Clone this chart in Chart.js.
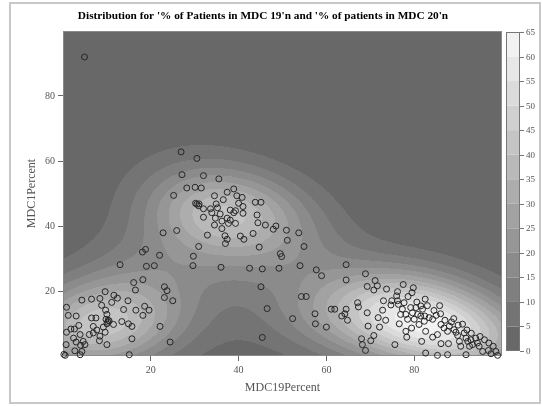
<!DOCTYPE html>
<html><head><meta charset="utf-8">
<script src="https://cdn.jsdelivr.net/npm/chart.js@4.4.1/dist/chart.umd.min.js"></script>
<style>html,body{margin:0;padding:0;background:#fff}canvas{display:block}</style>
</head><body>
<canvas id="c" width="542" height="406"></canvas>
<script>
// ---- data ----
const mdc19Percent = [
 // left cluster
 13.0,19.0,20.8,16.1,18.2,16.5,9.6,11.6,12.4,4.3,6.5,8.4,8.8,11.1,14.8,23.1,23.7,23.1,25.0,18.6,19.6,13.8,16.6,9.7,10.0,18.2,3.0,6.5,7.5,9.8,10.2,10.0,11.5,13.4,14.9,15.7,22.1,1.8,2.6,3.6,6.9,9.2,7.7,0.8,3.9,6.0,6.9,8.4,9.6,15.7,24.4,2.4,3.0,4.6,5.0,4.0,8.3,10.0,0.7,2.7,4.3,3.9,15.1,0.5,0.2,1.2,0.8,10.3,10.5,
 // upper left / between
 4.9,22.8,25.9,18.8,18.1,22.0,25.2,
 // middle cluster
 26.9,30.5,27.1,32.0,35.5,28.2,30.1,31.5,37.4,38.9,34.5,39.6,40.8,36.5,34.9,30.5,30.9,32.0,33.6,35.2,38.1,39.3,40.0,41.0,43.8,45.1,33.9,35.8,38.9,41.0,32.0,34.7,37.4,44.2,36.2,38.1,34.5,37.7,39.3,44.4,46.1,47.9,48.5,50.9,53.7,36.2,32.9,36.9,37.4,37.0,40.4,41.2,43.3,51.1,54.9,44.7,30.9,49.5,49.8,29.7,29.6,36.0,42.5,45.4,49.2,54.0,30.2,31.0,
 // middle bottom
 45.1,46.5,52.3,45.4,
 // right middle
 57.7,58.9,64.5,64.5,68.9,71.1,69.3,71.6,70.8,73.7,76.2,76.0,73.0,74.9,76.2,76.4,74.7,54.3,55.4,67.1,67.3,61.1,61.9,64.5,64.2,63.5,69.3,72.8,57.4,64.8,71.8,73.5,57.5,60.0,69.5,72.1,76.6,76.9,70.8,70.1,68.0,68.2,68.9,75.6,77.5,79.8,
 // right cluster
 78.6,80.6,81.5,81.9,80.4,79.2,77.7,77.3,78.1,79.6,80.8,81.5,82.4,83.4,84.2,78.5,80.0,82.3,81.1,79.4,78.1,78.3,81.7,82.6,84.2,85.3,86.1,86.8,87.6,88.0,89.1,89.5,89.9,91.4,91.8,92.2,92.9,93.3,94.4,94.8,90.3,90.6,86.1,87.8,95.6,96.9,97.5,98.6,99.0,82.6,85.3,87.6,91.8,92.6,
 84.5,85.0,87.0,88.5,90.0,83.0,86.0,92.0,93.0,95.0,96.0,94.0,97.0,98.0,89.0,91.0,85.8,79.5,82.5
];
const mdc1Percent = [
 // left cluster
 28.1,27.6,27.8,22.6,23.5,20.3,19.8,18.7,17.8,17.2,17.5,17.7,15.6,16.5,17.0,21.3,20.1,18.0,17.0,15.3,14.1,14.3,14.1,14.1,12.8,12.5,12.3,11.7,11.7,11.3,10.4,9.9,9.7,10.6,9.9,9.1,9.1,8.3,8.3,9.4,9.1,8.9,8.0,7.3,6.6,6.6,7.1,6.1,7.3,5.3,4.3,5.5,4.3,4.5,3.5,3.3,4.7,3.5,3.5,1.6,1.4,0.4,0.4,0.2,0.5,12.5,15.0,11.0,10.8,
 // upper left / between
 92.0,37.9,38.6,32.8,32.0,31.0,49.4,
 // middle cluster
 62.8,60.8,55.8,55.5,54.5,51.7,51.9,51.7,50.4,51.4,49.3,49.3,48.8,48.1,46.8,46.7,46.2,45.3,45.3,45.6,44.9,44.7,47.0,46.0,47.3,47.3,44.1,43.7,44.1,43.9,42.7,42.4,42.4,43.4,41.5,41.8,40.3,40.8,40.8,41.0,40.3,39.0,40.0,38.7,37.9,39.2,37.2,37.0,35.9,34.6,36.9,35.9,37.7,35.6,33.7,33.5,33.7,31.5,30.6,30.7,27.8,27.3,27.0,26.8,27.0,27.8,47.0,46.8,
 // middle bottom
 21.3,14.6,11.5,5.7,
 // right middle
 26.5,24.7,28.1,23.4,25.3,23.2,21.4,21.6,20.3,20.6,19.8,18.5,17.0,17.0,17.0,15.9,15.7,18.3,18.3,16.4,15.1,14.4,14.4,14.4,13.0,12.3,13.3,14.1,13.0,11.0,11.8,11.0,9.9,8.9,9.2,8.9,9.9,12.8,6.3,4.7,5.3,3.5,1.7,3.5,22.0,21.0,
 // right cluster
 18.3,16.6,15.4,14.4,14.9,14.9,16.4,14.4,12.8,13.3,12.8,12.3,12.3,11.8,11.3,11.3,11.3,10.7,9.7,8.6,7.6,5.8,4.5,7.6,5.8,6.6,9.7,8.6,7.6,9.2,8.1,7.3,6.3,7.1,5.5,4.5,5.0,3.5,4.0,3.0,4.5,3.0,3.8,3.8,1.4,1.7,0.7,1.4,0.2,0.9,0.2,0.4,0.4,3.0,
 14.0,12.5,11.0,10.5,9.5,15.5,13.0,8.0,7.0,6.0,5.0,5.5,4.0,3.0,11.5,9.8,15.5,19.5,17.5
];
const xTickValues = [20, 40, 60, 80];
const yTickValues = [20, 40, 60, 80];
const colorbarTicks = [0,5,10,15,20,25,30,35,40,45,50,55,60,65];

const TITLE = "Distribution for '% of Patients in MDC 19'n and '% of patients in MDC 20'n";
const SERIF = "'Liberation Serif','Times New Roman',serif";
const BW_X = 11, BW_Y = 7.5;       // kernel bandwidths (data units)
const DENSITY_PEAK = 64;           // colorbar value reached at the density maximum
// grayscale ramp for the 13 contour bands (dark -> light)
const bandGray = colorbarTicks.slice(0, -1).map((_, k) => {
  const g = Math.round(104 + k * (242 - 104) / (colorbarTicks.length - 2));
  return [g, g, g];
});

const points = mdc19Percent.map((v, i) => ({ x: v, y: mdc1Percent[i] }));

const densityPlugin = {
  id: 'density',
  beforeDatasetsDraw(chart) {
    const { ctx, chartArea: a, scales: { x, y } } = chart;
    const L = Math.round(a.left), T = Math.round(a.top);
    const w = Math.round(a.right) - L, h = Math.round(a.bottom) - T;
    if (!chart.$densCanvas) {
      const n = points.length;
      const xv = new Float64Array(w), yv = new Float64Array(h);
      for (let i = 0; i < w; i++) xv[i] = x.getValueForPixel(L + i + 0.5);
      for (let j = 0; j < h; j++) yv[j] = y.getValueForPixel(T + j + 0.5);
      const dens = new Float64Array(w * h);
      const gx = new Float64Array(w);
      for (let k = 0; k < n; k++) {
        const px = points[k].x, py = points[k].y;
        for (let i = 0; i < w; i++) { const d = (xv[i] - px) / BW_X; gx[i] = Math.exp(-0.5 * d * d); }
        for (let j = 0; j < h; j++) {
          const d = (yv[j] - py) / BW_Y; const g = Math.exp(-0.5 * d * d);
          if (g < 1e-5) continue;
          const row = j * w;
          for (let i = 0; i < w; i++) dens[row + i] += gx[i] * g;
        }
      }
      let max = 0; for (let p = 0; p < dens.length; p++) if (dens[p] > max) max = dens[p];
      const off = document.createElement('canvas'); off.width = w; off.height = h;
      const octx = off.getContext('2d');
      const img = octx.createImageData(w, h);
      const nb = bandGray.length;
      for (let p = 0; p < dens.length; p++) {
        const v = dens[p] / max * DENSITY_PEAK;
        let b = Math.floor(v / 5); if (b > nb - 1) b = nb - 1; if (b < 0) b = 0;
        const c = bandGray[b];
        img.data[p * 4] = c[0]; img.data[p * 4 + 1] = c[1]; img.data[p * 4 + 2] = c[2]; img.data[p * 4 + 3] = 255;
      }
      octx.putImageData(img, 0, 0);
      chart.$densCanvas = off;
    }
    ctx.drawImage(chart.$densCanvas, L, T);
    ctx.save();
    ctx.strokeStyle = '#8a8a8a'; ctx.lineWidth = 1;
    ctx.strokeRect(L + 0.5, T + 0.5, w - 1, h - 1);
    ctx.restore();
  }
};

const decorPlugin = {
  id: 'decor',
  beforeDraw(chart) {
    const ctx = chart.ctx;
    ctx.save();
    ctx.fillStyle = '#fff'; ctx.fillRect(0, 0, chart.width, chart.height);
    ctx.strokeStyle = '#c8c8c8'; ctx.lineWidth = 2;
    ctx.strokeRect(10, 3, 530, 400);
    ctx.fillStyle = '#000';
    ctx.font = 'bold 11.3px ' + SERIF;
    ctx.textAlign = 'center'; ctx.textBaseline = 'middle';
    ctx.fillText(TITLE, 263, 16);
    ctx.restore();
  },
  afterDraw(chart) {
    // colour bar legend
    const ctx = chart.ctx;
    const bx = 506, bw = 14, top = 32, bottom = 351;
    const vmax = colorbarTicks[colorbarTicks.length - 1];
    const yOf = v => bottom - (v / vmax) * (bottom - top);
    ctx.save();
    for (let k = 0; k < bandGray.length; k++) {
      const y0 = yOf(colorbarTicks[k]), y1 = yOf(colorbarTicks[k + 1]);
      const c = bandGray[k];
      ctx.fillStyle = `rgb(${c[0]},${c[1]},${c[2]})`;
      ctx.fillRect(bx, y1, bw, y0 - y1);
    }
    ctx.strokeStyle = '#777'; ctx.lineWidth = 1;
    ctx.strokeRect(bx + 0.5, top + 0.5, bw - 1, bottom - top - 1);
    ctx.fillStyle = '#555'; ctx.font = '9px ' + SERIF;
    ctx.textAlign = 'left'; ctx.textBaseline = 'middle';
    colorbarTicks.forEach(v => {
      const yy = Math.round(yOf(v)) + 0.5;
      ctx.beginPath(); ctx.moveTo(bx + bw, yy); ctx.lineTo(bx + bw + 4, yy); ctx.stroke();
      ctx.fillText(String(v), bx + bw + 6, yy);
    });
    ctx.restore();
  }
};

new Chart(document.getElementById('c'), {
  type: 'scatter',
  data: {
    datasets: [{
      data: points,
      pointStyle: 'circle',
      pointRadius: 3,
      pointBorderWidth: 1,
      borderColor: '#262626',
      backgroundColor: 'rgba(0,0,0,0)',
      clip: false
    }]
  },
  options: {
    responsive: false,
    animation: false,
    events: [],
    layout: { padding: { top: 31, right: 40, bottom: 7, left: 21 } },
    plugins: { legend: { display: false }, title: { display: false }, tooltip: { enabled: false } },
    scales: {
      x: {
        type: 'linear', min: 0, max: 100,
        afterBuildTicks: s => { s.ticks = xTickValues.map(v => ({ value: v })); },
        afterFit: s => { s.height = 43; },
        ticks: { font: { family: SERIF, size: 10 }, color: '#555', padding: 3, maxRotation: 0 },
        grid: { drawOnChartArea: false, drawTicks: true, tickLength: 5, color: '#666' },
        border: { display: false },
        title: { display: true, text: 'MDC19Percent', color: '#555', font: { family: SERIF, size: 12 }, padding: { top: 4, bottom: 4 } }
      },
      y: {
        type: 'linear', min: 0, max: 100,
        afterBuildTicks: s => { s.ticks = yTickValues.map(v => ({ value: v })); },
        afterFit: s => { s.width = 42; },
        ticks: { font: { family: SERIF, size: 10 }, color: '#555', padding: 3 },
        grid: { drawOnChartArea: false, drawTicks: true, tickLength: 5, color: '#666' },
        border: { display: false },
        title: { display: true, text: 'MDC1Percent', color: '#555', font: { family: SERIF, size: 12 }, padding: { top: 4, bottom: 4 } }
      }
    }
  },
  plugins: [decorPlugin, densityPlugin]
});
</script>
</body></html>
